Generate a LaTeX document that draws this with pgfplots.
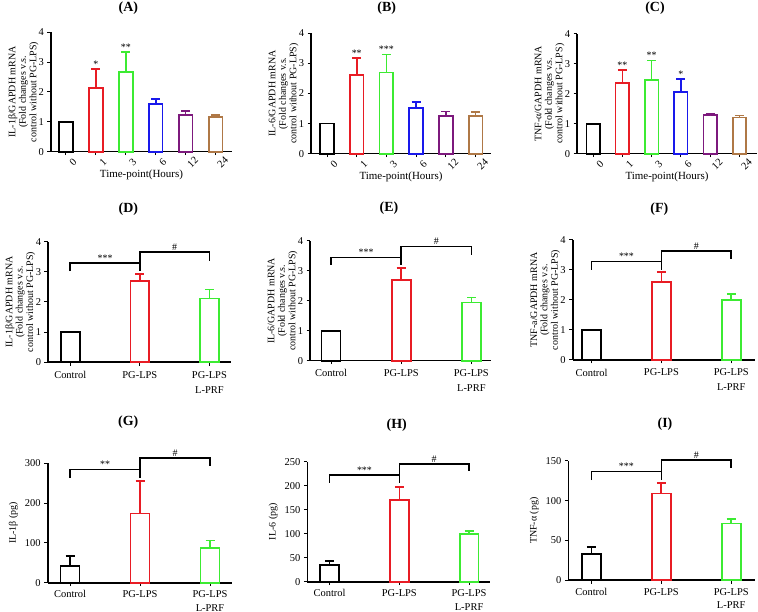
\documentclass[border=0pt]{standalone}
\usepackage{fontspec}
\setmainfont{Liberation Serif}
\usepackage{pgfplots}
\pgfplotsset{compat=1.18}

\definecolor{cred}{RGB}{232,28,36}
\definecolor{cgreen}{RGB}{60,235,50}
\definecolor{cblue}{RGB}{25,25,235}
\definecolor{cpurple}{RGB}{125,25,125}
\definecolor{cbrown}{RGB}{175,120,70}

\pgfplotsset{
  panel/.style={
    scale only axis, anchor=south west, clip=false,
    axis lines*=left, axis line style={line width=1.6bp},
    tick align=outside, major tick length=3.5bp,
    tick style={line width=1bp, black},
    ymin=0,
    ticklabel style={font=\fontsize{10.5}{12}\selectfont},
    ylabel style={align=center, font=\fontsize{10}{10.5}\selectfont},
    /pgf/number format/assume math mode=true,
  },
  fold/.style={ymax=4, ytick={0,1,2,3,4},
    ylabel style={at={(axis description cs:-0.05,0.5)}, anchor=south}},
  time/.style={bar width=0.46, xtick={0,...,5}, xticklabels={0,1,3,6,12,24},
    xticklabel style={rotate=45, anchor=center, inner sep=0.5bp, yshift=-10bp},
    xlabel={Time-point(Hours)},
    xlabel style={font=\fontsize{11}{12}\selectfont, at={(axis description cs:0.5,0)},
      anchor=north, inner sep=1bp, yshift=-17bp}},
  treat/.style={bar width=0.27, xtick={0,1,2},
    xticklabels={Control,PG-LPS,{PG-LPS\\L-PRF}},
    xticklabel style={align=center, anchor=north, yshift=-2bp,
      font=\fontsize{10.5}{15}\selectfont}},
  lowrow/.style={xticklabel style={yshift=1bp, font=\fontsize{10.5}{13.5}\selectfont}},
  bracket/.style={black, line width=1.6bp, sharp plot, no marks},
}

% bar with upper error bar: colour, x, y, error
\newcommand{\barerr}[4]{%
  \addplot[ybar, bar shift=0pt, draw=#1, fill=white, line width=1.7bp,
    error bars/.cd, y dir=plus, y explicit,
    error bar style={draw=#1, line width=1.7bp},
    error mark options={draw=#1, rotate=90, mark size=4.5bp, line width=1.7bp}]
    coordinates {(#2,#3) +- (0,#4)};}
\newcommand{\barplain}[3]{%
  \addplot[ybar, bar shift=0pt, draw=#1, fill=white, line width=1.7bp]
    coordinates {(#2,#3)};}
\newcommand{\sig}[3]{\node[anchor=south, inner sep=1.5bp, font=\fontsize{10}{10}\selectfont] at (axis cs:#1,#2) {#3};}

\begin{document}
\begin{tikzpicture}
\path[use as bounding box] (0,0) rectangle (758bp,612bp);

% ---- row 1 ----
\begin{axis}[panel, fold, time, at={(51bp,460.3bp)}, width=181bp, height=119.4bp,
  xmin=-0.5, xmax=5.55,
  ylabel={IL-1β/GAPDH mRNA\\(Fold changes v.s.\\control without PG-LPS)}]
\barplain{black}{0}{1.0}
\barerr{cred}{1}{2.13}{0.64}
\barerr{cgreen}{2}{2.66}{0.68}
\barerr{cblue}{3}{1.59}{0.17}
\barerr{cpurple}{4}{1.23}{0.14}
\barerr{cbrown}{5}{1.16}{0.06}
\sig{1}{2.77}{*}
\sig{2}{3.34}{**}
\end{axis}

\begin{axis}[panel, fold, time, at={(311bp,458.3bp)}, width=180bp, height=120.4bp,
  xmin=-0.54, xmax=5.52,
  ylabel={IL-6/GAPDH mRNA\\(Fold changes v.s.\\control without PG-LPS)}]
\barplain{black}{0}{1.0}
\barerr{cred}{1}{2.61}{0.56}
\barerr{cgreen}{2}{2.70}{0.60}
\barerr{cblue}{3}{1.51}{0.21}
\barerr{cpurple}{4}{1.26}{0.14}
\barerr{cbrown}{5}{1.26}{0.12}
\sig{1}{3.17}{**}
\sig{2}{3.30}{***}
\end{axis}

\begin{axis}[panel, fold, time, at={(577bp,458.3bp)}, width=180bp, height=120bp,
  xmin=-0.55, xmax=5.6,
  ylabel={TNF-α/GAPDH mRNA\\(Fold changes v.s.\\control without PG-LPS)}]
\barplain{black}{0}{1.0}
\barerr{cred}{1}{2.36}{0.43}
\barerr{cgreen}{2}{2.45}{0.66}
\barerr{cblue}{3}{2.05}{0.44}
\barerr{cpurple}{4}{1.28}{0.06}
\barerr{cbrown}{5}{1.21}{0.06}
\sig{1}{2.79}{**}
\sig{2}{3.11}{**}
\sig{3}{2.49}{*}
\end{axis}

% ---- row 2 ----
\begin{axis}[panel, fold, treat, at={(48bp,249.7bp)}, width=183bp, height=120.6bp,
  xmin=-0.32, xmax=2.31,
  ylabel={IL-1β/GAPDH mRNA\\(Fold changes v.s.\\control without PG-LPS)}]
\barplain{black}{0}{1.0}
\barerr{cred}{1}{2.69}{0.23}
\barerr{cgreen}{2}{2.12}{0.29}
\addplot[bracket] coordinates {(0,3.02) (0,3.29) (1,3.29)};
\addplot[bracket] coordinates {(1,3.02) (1,3.66) (2,3.66) (2,3.36)};
\sig{0.5}{3.29}{***}
\sig{1.5}{3.66}{\#}
\end{axis}

\begin{axis}[panel, fold, treat, at={(310bp,251.3bp)}, width=181bp, height=119.7bp,
  xmin=-0.30, xmax=2.28,
  ylabel={IL-6/GAPDH mRNA\\(Fold changes v.s.\\control without PG-LPS)}]
\barplain{black}{0}{1.0}
\barerr{cred}{1}{2.70}{0.39}
\barerr{cgreen}{2}{1.94}{0.17}
\addplot[bracket] coordinates {(0,3.2) (0,3.45) (1,3.45)};
\addplot[bracket] coordinates {(1,3.2) (1,3.82) (2,3.82) (2,3.54)};
\sig{0.5}{3.45}{***}
\sig{1.5}{3.82}{\#}
\end{axis}

\begin{axis}[panel, fold, treat, at={(572.7bp,252bp)}, width=182.3bp, height=120bp,
  xmin=-0.27, xmax=2.34,
  ylabel={TNF-a/GAPDH mRNA\\(Fold changes v.s.\\control without PG-LPS)}]
\barplain{black}{0}{1.0}
\barerr{cred}{1}{2.59}{0.34}
\barerr{cgreen}{2}{2.01}{0.18}
\addplot[bracket] coordinates {(0,3.0) (0,3.28) (1,3.28)};
\addplot[bracket] coordinates {(1,3.0) (1,3.63) (2,3.63) (2,3.36)};
\sig{0.5}{3.28}{***}
\sig{1.5}{3.63}{\#}
\end{axis}

% ---- row 3 ----
\begin{axis}[panel, treat, lowrow, at={(47.7bp,29.3bp)}, width=184bp, height=119.4bp,
  xmin=-0.32, xmax=2.31, ymax=300, ytick={0,100,200,300},
  ylabel={IL-1β (pg)}]
\barerr{black}{0}{42.7}{24.3}
\barerr{cred}{1}{174}{82}
\barerr{cgreen}{2}{88}{18}
\addplot[bracket] coordinates {(0,264) (0,284) (1,284)};
\addplot[bracket] coordinates {(1,264) (1,314) (2,314) (2,294)};
\sig{0.5}{284}{**}
\sig{1.5}{314}{\#}
\end{axis}

\begin{axis}[panel, treat, lowrow, at={(307.3bp,30.3bp)}, width=182.7bp, height=120bp,
  xmin=-0.32, xmax=2.30, ymax=250, ytick={0,50,100,150,200,250},
  ylabel={IL-6 (pg)}]
\barerr{black}{0}{34.8}{8.2}
\barerr{cred}{1}{169.6}{28.4}
\barerr{cgreen}{2}{98.7}{7.3}
\addplot[bracket] coordinates {(0,206) (0,222) (1,222)};
\addplot[bracket] coordinates {(1,206) (1,244.6) (2,244.6) (2,230)};
\sig{0.5}{222}{***}
\sig{1.5}{244.6}{\#}
\end{axis}

\begin{axis}[panel, treat, lowrow, at={(568.3bp,31.7bp)}, width=186.7bp, height=119.3bp,
  xmin=-0.33, xmax=2.34, ymax=150, ytick={0,50,100,150},
  ylabel={TNF-α (pg)}]
\barerr{black}{0}{32.7}{8.8}
\barerr{cred}{1}{109.3}{12.7}
\barerr{cgreen}{2}{71.6}{5.8}
\addplot[bracket] coordinates {(0,126) (0,137) (1,137)};
\addplot[bracket] coordinates {(1,126) (1,151) (2,151) (2,140.7)};
\sig{0.5}{137}{***}
\sig{1.5}{151}{\#}
\end{axis}

% ---- panel titles ----
\begin{scope}[every node/.style={font=\bfseries\fontsize{14}{14}\selectfont}]
\node at (128.3bp,604.2bp) {(A)};
\node at (386.7bp,604.2bp) {(B)};
\node at (655bp,604.2bp) {(C)};
\node at (128.3bp,403.2bp) {(D)};
\node at (389bp,404.2bp) {(E)};
\node at (659.3bp,403.2bp) {(F)};
\node at (128.3bp,189.8bp) {(G)};
\node at (396.7bp,186.5bp) {(H)};
\node at (665bp,188.2bp) {(I)};
\end{scope}
\end{tikzpicture}
\end{document}
